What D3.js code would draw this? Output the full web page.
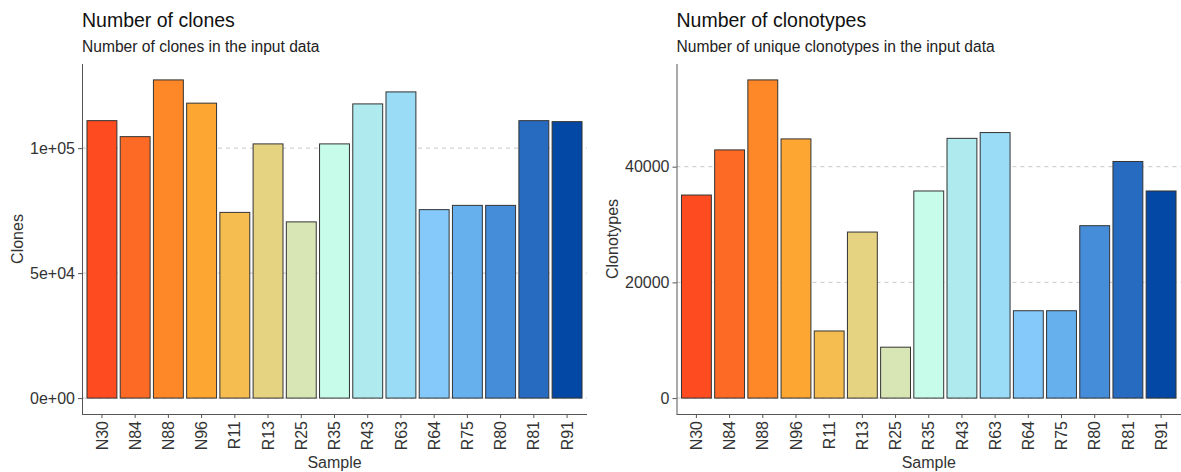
<!DOCTYPE html>
<html>
<head>
  <title>Number of clones / clonotypes</title>
  <script src="https://d3js.org/d3.v7.min.js"></script>
  <style>
    body { margin: 0; background: #fff; }
    svg text { font-family: "Liberation Sans", Arial, sans-serif; }
  </style>
</head>
<body>
<div id="chart-container"></div>
<script>
var samples = ["N30", "N84", "N88", "N96", "R11", "R13", "R25", "R35", "R43", "R63", "R64", "R75", "R80", "R81", "R91"];
var clones = [111000, 104600, 127300, 118000, 74300, 101700, 70500, 101700, 117700, 122500, 75400, 77100, 77100, 111000, 110600];
var clonotypes = [35100, 42900, 55000, 44800, 11600, 28700, 8800, 35800, 44900, 45900, 15100, 15100, 29800, 40900, 35800];
var barColors = ["#fe4b20", "#fd6a25", "#fe8828", "#fea632", "#f5bc50", "#e5d382", "#d8e6b6", "#c7fbea", "#afebee", "#9adcf5", "#85c8fa", "#66b0ee", "#458cd9", "#276bc1", "#0448a5"];
var clonesTicks = [0, 50000, 100000];
var clonesTickLabels = ["0e+00", "5e+04", "1e+05"];
var clonotypeTicks = [0, 20000, 40000];
var clonotypeTickLabels = ["0", "20000", "40000"];

var svg = d3.select("#chart-container")
  .append("svg")
  .attr("width", 1181)
  .attr("height", 472);

function drawPanel(opts) {
  var top = 64, bottom = 414;
  var max = d3.max(opts.values);

  var x = d3.scaleBand()
    .domain(samples)
    .range([opts.left, opts.right])
    .paddingInner(0.1)
    .paddingOuter(0.15);

  var y = d3.scaleLinear()
    .domain([-0.05 * max, 1.05 * max])
    .range([bottom, top]);

  var g = svg.append("g");

  // dashed grid lines
  g.selectAll(".grid")
    .data(opts.ticks)
    .enter().append("line")
    .attr("x1", opts.left)
    .attr("x2", opts.right)
    .attr("y1", d => y(d))
    .attr("y2", d => y(d))
    .attr("stroke", "#c8c8c8")
    .attr("stroke-width", 1)
    .attr("stroke-dasharray", "4,4");

  g.selectAll(".bar")
    .data(opts.values)
    .enter().append("rect")
    .attr("x", (d, i) => x(samples[i]))
    .attr("width", x.bandwidth())
    .attr("y", d => y(d))
    .attr("height", d => y(0) - y(d))
    .attr("fill", (d, i) => barColors[i])
    .attr("stroke", "#333")
    .attr("stroke-width", 1);

  // axes
  var yAxis = d3.axisLeft(y)
    .tickValues(opts.ticks)
    .tickFormat((d, i) => opts.tickLabels[i])
    .tickSize(4)
    .tickPadding(3);
  var ya = g.append("g")
    .attr("transform", "translate(" + opts.left + ",0)")
    .call(yAxis);
  ya.select(".domain").attr("d", "M0.5," + top + "V" + bottom);

  var xAxis = d3.axisBottom(x).tickSize(4).tickPadding(4);
  var xa = g.append("g")
    .attr("transform", "translate(0," + bottom + ")")
    .call(xAxis);
  xa.select(".domain").attr("d", "M" + opts.left + ",0.5H" + opts.right);
  xa.selectAll("text")
    .attr("transform", "rotate(-90)")
    .attr("x", -7)
    .attr("y", 0)
    .attr("dy", "0.35em")
    .style("text-anchor", "end");

  g.selectAll(".domain").attr("stroke", "#555");
  g.selectAll(".tick line").attr("stroke", "#555");
  g.selectAll(".tick text")
    .attr("fill", "#333")
    .style("font-size", "16px");

  // titles
  g.append("text")
    .attr("x", opts.left)
    .attr("y", 27)
    .style("font-size", "19.5px")
    .attr("fill", "#111")
    .text(opts.title);

  g.append("text")
    .attr("x", opts.left)
    .attr("y", 52)
    .style("font-size", "15.6px")
    .attr("fill", "#222")
    .text(opts.subtitle);

  g.append("text")
    .attr("x", (opts.left + opts.right) / 2)
    .attr("y", 468)
    .style("text-anchor", "middle")
    .style("font-size", "16px")
    .attr("fill", "#333")
    .text("Sample");

  g.append("text")
    .attr("transform", "translate(" + opts.yTitleX + "," + ((top + bottom) / 2) + ") rotate(-90)")
    .attr("dy", "0.35em")
    .style("text-anchor", "middle")
    .style("font-size", "16px")
    .attr("fill", "#333")
    .text(opts.yTitle);
}

drawPanel({
  left: 82, right: 587,
  values: clones,
  ticks: clonesTicks, tickLabels: clonesTickLabels,
  title: "Number of clones",
  subtitle: "Number of clones in the input data",
  yTitle: "Clones", yTitleX: 17
});

drawPanel({
  left: 676.5, right: 1181,
  values: clonotypes,
  ticks: clonotypeTicks, tickLabels: clonotypeTickLabels,
  title: "Number of clonotypes",
  subtitle: "Number of unique clonotypes in the input data",
  yTitle: "Clonotypes", yTitleX: 612
});
</script>
</body>
</html>
